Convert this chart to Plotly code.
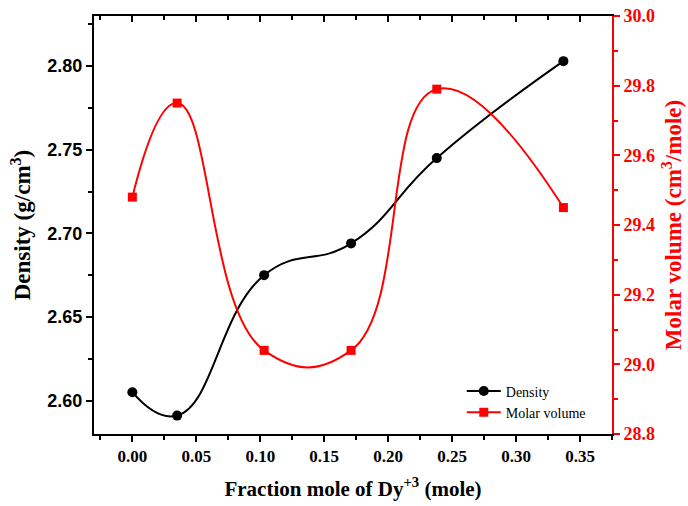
import plotly.graph_objects as go

# Dy+3 mole fraction and measured properties
dy_fraction = [0.000, 0.035, 0.103, 0.171, 0.238, 0.337]
density = [2.605, 2.591, 2.675, 2.694, 2.745, 2.803]          # g/cm3
molar_volume = [29.48, 29.75, 29.04, 29.04, 29.79, 29.45]    # cm3/mole

x_ticks = [0.00, 0.05, 0.10, 0.15, 0.20, 0.25, 0.30, 0.35]
x_tick_text = ["0.00", "0.05", "0.10", "0.15", "0.20", "0.25", "0.30", "0.35"]
density_ticks = [2.60, 2.65, 2.70, 2.75, 2.80]
density_tick_text = ["2.60", "2.65", "2.70", "2.75", "2.80"]
volume_ticks = [28.8, 29.0, 29.2, 29.4, 29.6, 29.8, 30.0]
volume_tick_text = ["28.8", "29.0", "29.2", "29.4", "29.6", "29.8", "30.0"]

RED = "#ff0000"
SERIF = "Liberation Serif"
SANS = "Liberation Sans"

fig = go.Figure()

fig.add_trace(go.Scatter(
    x=dy_fraction, y=density, name="Density",
    mode="lines+markers",
    line=dict(color="black", width=2, shape="spline", smoothing=1.3),
    marker=dict(symbol="circle", size=10, color="black"),
    xaxis="x", yaxis="y",
))
fig.add_trace(go.Scatter(
    x=dy_fraction, y=molar_volume, name="Molar volume",
    mode="lines+markers",
    line=dict(color=RED, width=2, shape="spline", smoothing=1.3),
    marker=dict(symbol="square", size=9, color=RED),
    xaxis="x", yaxis="y2",
))
# invisible trace so the top frame axis is drawn
fig.add_trace(go.Scatter(
    x=[dy_fraction[0]], y=[density[0]], mode="markers",
    marker=dict(opacity=0), showlegend=False, hoverinfo="skip",
    xaxis="x2", yaxis="y",
))

x_range = [-0.03, 0.375]

fig.update_layout(
    width=688, height=506,
    margin=dict(l=94, r=76, t=16, b=72),
    paper_bgcolor="white", plot_bgcolor="white",
    showlegend=True,
    legend=dict(
        x=0.71, y=0.14, xanchor="left", yanchor="top",
        font=dict(family=SERIF, size=14, color="black"),
        bgcolor="rgba(0,0,0,0)", tracegroupgap=0,
        itemwidth=34,
    ),
    xaxis=dict(
        range=x_range, tickvals=x_ticks, ticktext=x_tick_text,
        ticks="outside", ticklen=6, tickwidth=2, tickcolor="black",
        minor=dict(ticks="outside", ticklen=4, tickwidth=2, dtick=0.025,
                   tick0=0, tickcolor="black"),
        showline=True, linecolor="black", linewidth=2,
        showgrid=False, zeroline=False, automargin=False,
        tickfont=dict(family=SERIF, size=17, color="black", weight="bold"),
        title=dict(text="Fraction mole of Dy<sup>+3</sup> (mole)",
                   font=dict(family=SERIF, size=21, color="black", weight="bold"),
                   standoff=16),
    ),
    xaxis2=dict(
        range=x_range, overlaying="x", side="top", anchor="y",
        tickvals=x_ticks, showticklabels=False,
        ticks="inside", ticklen=6, tickwidth=2, tickcolor="black",
        minor=dict(ticks="inside", ticklen=4, tickwidth=2, dtick=0.025,
                   tick0=0, tickcolor="black"),
        showline=True, linecolor="black", linewidth=2,
        showgrid=False, zeroline=False, automargin=False,
    ),
    yaxis=dict(
        range=[2.58, 2.83], tickvals=density_ticks, ticktext=density_tick_text,
        ticks="outside", ticklen=6, tickwidth=2, tickcolor="black",
        minor=dict(ticks="outside", ticklen=4, tickwidth=2, dtick=0.025,
                   tick0=2.6, tickcolor="black"),
        showline=True, linecolor="black", linewidth=2,
        showgrid=False, zeroline=False, automargin=False,
        tickfont=dict(family=SANS, size=18, color="black", weight="bold"),
        title=dict(text="Density (g/cm<sup>3</sup>)",
                   font=dict(family=SERIF, size=23, color="black", weight="bold"),
                   standoff=10),
    ),
    yaxis2=dict(
        range=[28.8, 30.0], overlaying="y", side="right", anchor="x",
        tickvals=volume_ticks, ticktext=volume_tick_text,
        ticks="outside", ticklen=6, tickwidth=2, tickcolor=RED,
        minor=dict(ticks="outside", ticklen=4, tickwidth=2, dtick=0.1,
                   tick0=28.8, tickcolor=RED),
        showline=True, linecolor=RED, linewidth=2,
        showgrid=False, zeroline=False, automargin=False,
        tickfont=dict(family=SERIF, size=18, color=RED, weight="bold"),
        title=dict(text="Molar volume (cm<sup>3</sup>/mole)",
                   font=dict(family=SERIF, size=23, color=RED, weight="bold"),
                   standoff=11),
    ),
)

fig.write_html("out.html")
